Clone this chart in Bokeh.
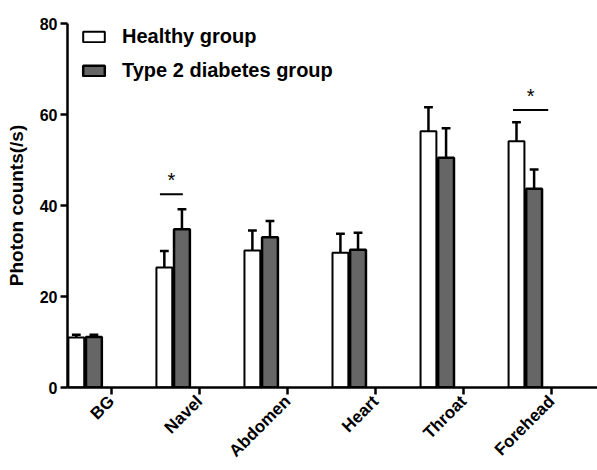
import math
from bokeh.plotting import figure
from bokeh.models import (ColumnDataSource, Range1d, FixedTicker, Legend, LegendItem)
from bokeh.core.properties import value
from bokeh.embed import file_html
from bokeh.resources import INLINE

categories = ["BG", "Navel", "Abdomen", "Heart", "Throat", "Forehead"]
healthy = [11.0, 26.4, 30.1, 29.6, 56.3, 54.1]
healthy_err = [0.6, 3.6, 4.4, 4.2, 5.3, 4.2]
diabetes = [11.1, 34.8, 33.0, 30.3, 50.5, 43.7]
diabetes_err = [0.5, 4.4, 3.6, 3.7, 6.5, 4.2]
y_ticks = [0, 20, 40, 60, 80]

# significance marks: (category index, height of line)
sig_cats = [1, 5]
sig_levels = [42.5, 61.0]

FONT = "Liberation Sans"
off_h, off_d, bw = -0.40, -0.20, 0.18
cap = 0.05

idx = list(range(len(categories)))
xh = [i + off_h for i in idx]
xd = [i + off_d for i in idx]

p = figure(width=597, height=470, output_backend="svg", toolbar_location=None,
           x_range=Range1d(-0.5, 5.52), y_range=Range1d(0, 80),
           min_border_left=67, min_border_right=0, min_border_top=23, min_border_bottom=83)
p.outline_line_color = None
p.xgrid.visible = False
p.ygrid.visible = False

src_h = ColumnDataSource(dict(x=xh, top=healthy, up=[v + e for v, e in zip(healthy, healthy_err)]))
src_d = ColumnDataSource(dict(x=xd, top=diabetes, up=[v + e for v, e in zip(diabetes, diabetes_err)]))

# error bars (upper only)
for src in (src_h, src_d):
    p.segment(x0="x", y0="top", x1="x", y1="up", source=src, line_color="black", line_width=2.5)
    d = src.data
    p.segment(x0=[x - cap for x in d["x"]], y0=d["up"], x1=[x + cap for x in d["x"]], y1=d["up"],
              line_color="black", line_width=2.5)

rh = p.vbar(x="x", top="top", width=bw, bottom=0, source=src_h, fill_color="white",
            line_color="black", line_width=2)
rd = p.vbar(x="x", top="top", width=bw, bottom=0, source=src_d, fill_color="#666666",
            line_color="black", line_width=2.5)

# significance lines and stars
sig_x0 = [sig_cats[0] - 0.45, sig_cats[1] - 0.44]
sig_x1 = [sig_cats[0] - 0.19, sig_cats[1] - 0.04]
p.segment(x0=sig_x0, y0=sig_levels, x1=sig_x1, y1=sig_levels, line_color="black", line_width=2)
p.text(x=[(a + b) / 2 for a, b in zip(sig_x0, sig_x1)], y=[s + 3.0 for s in sig_levels],
       text=["*", "*"], text_font=value(FONT), text_font_size="20px",
       text_align="center", text_baseline="middle", text_color="black")

# axes
p.xaxis.ticker = FixedTicker(ticks=idx)
p.xaxis.major_label_overrides = {i: c for i, c in enumerate(categories)}
p.xaxis.major_label_orientation = math.pi / 4
p.yaxis.ticker = FixedTicker(ticks=y_ticks)
for ax in (p.xaxis, p.yaxis):
    ax.axis_line_width = 2.5
    ax.major_tick_line_width = 2.5
    ax.major_tick_out = 7
    ax.major_tick_in = 0
    ax.minor_tick_line_color = None
    ax.major_label_text_font = FONT
    ax.major_label_text_font_style = "bold"
    ax.major_label_text_font_size = "16px"
    ax.major_label_text_color = "black"
    ax.axis_line_color = "black"
    ax.major_tick_line_color = "black"
p.xaxis.major_label_text_font_size = "17px"
p.yaxis.major_label_standoff = 3
p.xaxis.major_label_standoff = 4
p.yaxis.axis_label = "Photon counts(/s)"
p.yaxis.axis_label_text_font = FONT
p.yaxis.axis_label_text_font_style = "bold"
p.yaxis.axis_label_text_font_size = "19px"
p.yaxis.axis_label_text_color = "black"
p.yaxis.axis_label_standoff = 10

legend = Legend(items=[LegendItem(label="Healthy group", renderers=[rh]),
                       LegendItem(label="Type 2 diabetes group", renderers=[rd])],
                location=(13, 305), padding=0, margin=0, spacing=11,
                glyph_width=27, glyph_height=13, label_height=23, label_standoff=15,
                label_text_font=FONT, label_text_font_style="bold", label_text_font_size="20px",
                label_text_color="black", border_line_color=None, background_fill_alpha=0)
p.add_layout(legend, "center")

open("out.html", "w").write(file_html(p, INLINE))
